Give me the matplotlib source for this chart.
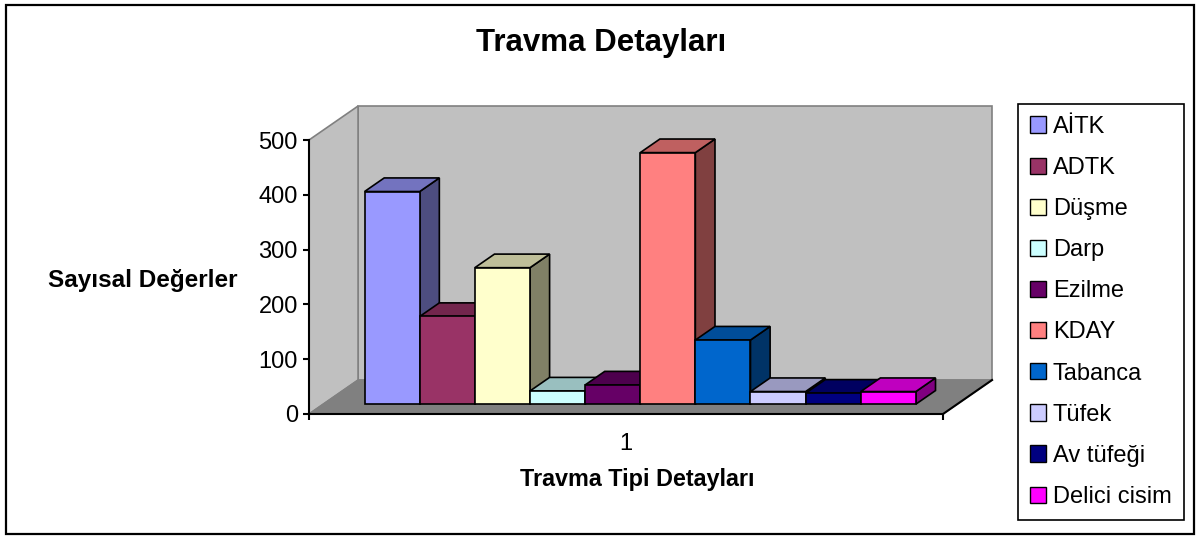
import matplotlib.pyplot as plt
from matplotlib.patches import Polygon, Patch, Rectangle
from matplotlib.colors import to_rgb

plt.rcParams['font.family'] = ['Liberation Sans', 'DejaVu Sans']

categories = ['AİTK', 'ADTK', 'Düşme', 'Darp', 'Ezilme', 'KDAY',
              'Tabanca', 'Tüfek', 'Av tüfeği', 'Delici cisim']
values = [388, 160, 249, 24, 35, 459, 117, 23, 20, 23]
colors = ['#9999FF', '#993366', '#FFFFCC', '#CCFFFF', '#660066',
          '#FF8080', '#0066CC', '#CCCCFF', '#000080', '#FF00FF']
y_ticks = [0, 100, 200, 300, 400, 500]

# oblique "3d" settings (depth shift in data units)
depth_dx = 0.89
depth_dy = 62
front_d, back_d = 0.29, 0.69
margin = 0.75
xmax = len(categories) + 2 * margin
ymax = 500


def shade(c, f):
    r, g, b = to_rgb(c)
    return (r * f, g * f, b * f)


def P(x, z, d):
    return (x + d * depth_dx, z + d * depth_dy)


fig = plt.figure(figsize=(11.98, 5.39), dpi=100)
W, H = 1198, 539
ax = fig.add_axes([309 / W, (H - 414) / H, 634 / W, 274 / H])
ax.set_xlim(0, xmax)
ax.set_ylim(0, ymax)
ax.patch.set_visible(False)

# walls and floor
back = Polygon([P(0, 0, 1), P(xmax, 0, 1), P(xmax, ymax, 1), P(0, ymax, 1)],
               closed=True, facecolor='#C0C0C0', edgecolor='#808080', lw=1.2,
               clip_on=False, zorder=0.5)
left = Polygon([P(0, 0, 0), P(0, 0, 1), P(0, ymax, 1), P(0, ymax, 0)],
               closed=True, facecolor='#C0C0C0', edgecolor='#808080', lw=1.2,
               clip_on=False, zorder=0.5)
floor = Polygon([P(0, 0, 0), P(xmax, 0, 0), P(xmax, 0, 1), P(0, 0, 1)],
                closed=True, facecolor='#808080', edgecolor='#808080', lw=1.0,
                clip_on=False, zorder=0.6)
for p in (back, left, floor):
    ax.add_patch(p)
fx = [P(xmax, 0, 0)[0], P(xmax, 0, 1)[0]]
fy = [P(xmax, 0, 0)[1], P(xmax, 0, 1)[1]]
ax.plot(fx, fy, color='black', lw=1.5, clip_on=False, zorder=0.7)

# bars
for i, (h, c) in enumerate(zip(values, colors)):
    x0 = margin + i
    x1 = x0 + 1
    z = 1 + i * 0.01
    front = [P(x0, 0, front_d), P(x1, 0, front_d), P(x1, h, front_d), P(x0, h, front_d)]
    top = [P(x0, h, front_d), P(x1, h, front_d), P(x1, h, back_d), P(x0, h, back_d)]
    side = [P(x1, 0, front_d), P(x1, 0, back_d), P(x1, h, back_d), P(x1, h, front_d)]
    for pts, f in ((side, 0.5), (top, 0.75), (front, 1.0)):
        ax.add_patch(Polygon(pts, closed=True, facecolor=shade(c, f),
                             edgecolor='black', lw=1.2, joinstyle='miter',
                             clip_on=False, zorder=z))

for s in ('top', 'right'):
    ax.spines[s].set_visible(False)
for s in ('left', 'bottom'):
    ax.spines[s].set_linewidth(1.5)
    ax.spines[s].set_zorder(3)

ax.set_yticks(y_ticks)
ax.tick_params(axis='y', direction='out', length=4, width=1.5, pad=4, labelsize=17)
ax.set_xticks([xmax / 2], ['1'])
ax.set_xticks([0, xmax], minor=True)
ax.tick_params(axis='x', which='major', length=0, pad=13.5, labelsize=17)
ax.tick_params(axis='x', which='minor', direction='out', length=4, width=1.5)

ax.set_ylabel('Sayısal Değerler', rotation=0, fontsize=17.5, fontweight='bold',
              ha='center', va='center')
ax.yaxis.set_label_coords(-0.263, 0.489)
ax.set_xlabel('Travma Tipi Detayları', fontsize=16.8, fontweight='bold',
              ha='center', va='center')
ax.xaxis.set_label_coords(0.517, -0.24)

fig.text(601 / W, 1 - 43 / H, 'Travma Detayları', fontsize=22.5,
         fontweight='bold', ha='center', va='center')

handles = [Patch(facecolor=c, edgecolor='black', lw=1.0) for c in colors]
leg = fig.legend(handles, categories, loc='upper left',
                 bbox_to_anchor=(1018 / W, 1 - 104 / H), borderaxespad=0,
                 fontsize=17, frameon=True, fancybox=False, edgecolor='black',
                 framealpha=1, handlelength=0.68, handleheight=0.68,
                 handletextpad=0.3, labelspacing=0.81, borderpad=0.5)
leg.get_frame().set_linewidth(1.2)

fig.add_artist(Rectangle((6 / W, 5 / H), 1188 / W, 529 / H,
                         transform=fig.transFigure, fill=False,
                         edgecolor='black', lw=1.6))

fig.savefig('out.png', dpi=100)
